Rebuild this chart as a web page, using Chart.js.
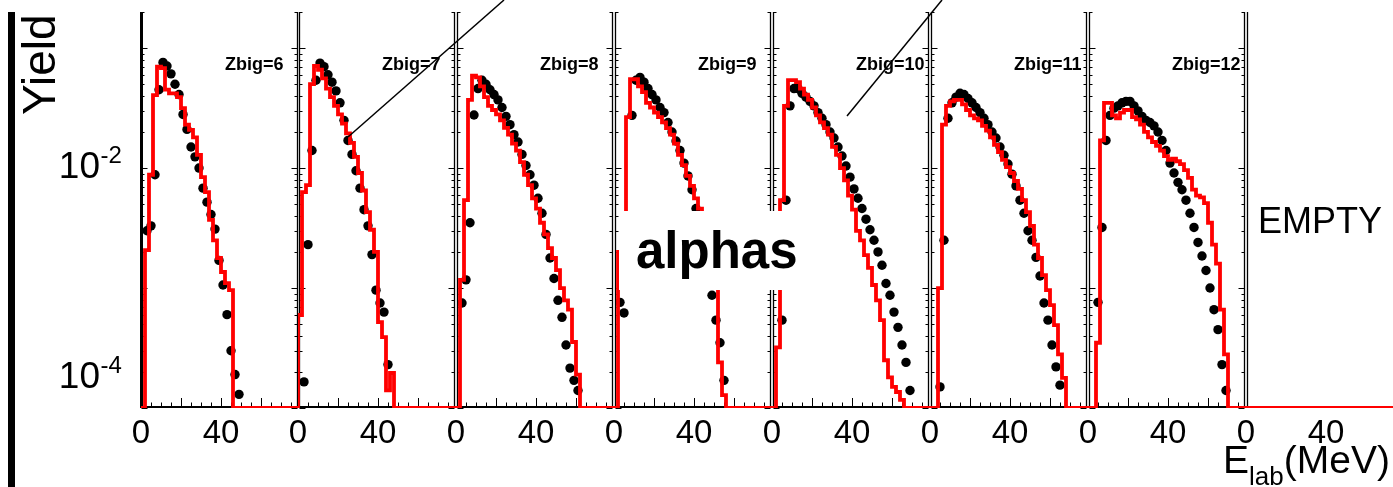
<!DOCTYPE html>
<html>
<head>
<meta charset="utf-8">
<script src="https://cdn.jsdelivr.net/npm/chart.js@4.4.0/dist/chart.umd.min.js"></script>
<style>
html, body { margin: 0; padding: 0; background: #fff; }
#wrap { position: relative; width: 1393px; height: 487px; overflow: hidden; font-family: "Liberation Sans", Arial, sans-serif; }
#wrap canvas { position: absolute; top: 0; }
#alphas { position: absolute; left: 619px; top: 211px; width: 186px; height: 79px; box-sizing: border-box;
  padding-left: 17px; background: #fff; font-weight: bold; font-size: 51px; line-height: 79px; z-index: 5; white-space: nowrap; }
#marks { position: absolute; left: 0; top: 0; z-index: 6; }
#elab { position: absolute; left: 1223px; top: 440px; font-size: 39px; line-height: 39px; white-space: nowrap; z-index: 7; }
#elab span { font-size: 26px; position: relative; top: 12px; }
</style>
</head>
<body>
<div id="wrap">
  <div id="panels"></div>
  <div id="alphas">alphas</div>
  <svg id="marks" width="1393" height="487">
    <line x1="348" y1="137" x2="504" y2="0" stroke="#000" stroke-width="1.5"/>
    <line x1="847" y1="116" x2="942" y2="0" stroke="#000" stroke-width="1.5"/>
  </svg>
  <div id="elab">E<span>lab</span>(MeV)</div>
</div>
<script>
// alphas, yield vs E_lab, one panel per Zbig

const BIN = 2;        // MeV per bin
const FLOOR = 1e-4;   // empty bins sit on the axis minimum
const X_MAX = 79;
const FONT = '"Liberation Sans", Arial, sans-serif';

const zbig = [6, 7, 8, 9, 10, 11, 12];
const xLabels = [0, 40];
const yLabels = [1e-2, 1e-4];

// red histogram: left edge of first filled bin, then bin contents
const simStart = [2, 0, 2, 2, 2, 4, 4];
const simZ6 = [2.07e-3, 8.8e-3, 4.06e-2, 7.0e-2, 6.8e-2, 4.5e-2, 4.2e-2, 4.2e-2, 3.9e-2, 3.16e-2, 2.3e-2,
  2.08e-2, 1.8e-2, 1.29e-2, 8.4e-3, 6.3e-3, 3.7e-3, 2.5e-3, 1.78e-3, 1.36e-3, 1.1e-3, 9.6e-4];
const simZ7 = [5.96e-4, 6.3e-3, 7.2e-3, 5.0e-2, 7.1e-2, 6.6e-2, 5.6e-2, 4.6e-2, 3.9e-2, 3.3e-2, 2.8e-2,
  2.35e-2, 1.95e-2, 1.62e-2, 1.24e-2, 9.1e-3, 6.5e-3, 4.3e-3, 3.06e-3, 2.0e-3, 5.2e-4, 3.9e-4, 1.4e-4, 1.96e-4];
const simZ8 = [1.17e-3, 5.4e-3, 3.7e-2, 5.9e-2, 5.7e-2, 4.8e-2, 3.9e-2, 3.3e-2, 3.05e-2, 2.8e-2, 2.5e-2,
  2.16e-2, 1.9e-2, 1.6e-2, 1.4e-2, 1.12e-2, 8.8e-3, 7.2e-3, 5.6e-3, 4.6e-3, 3.5e-3, 2.8e-3, 2.15e-3,
  1.78e-3, 1.41e-3, 1.0e-3, 7.9e-4, 6.6e-4, 3.55e-4, 1.9e-4];
const simZ9 = [2.0e-3, 2.5e-3, 2.66e-2, 5.5e-2, 5.5e-2, 4.8e-2, 4.3e-2, 3.5e-2, 3.2e-2, 2.9e-2, 2.66e-2,
  2.4e-2, 2.15e-2, 1.9e-2, 1.6e-2, 1.29e-2, 1.06e-2, 8.6e-3, 7.1e-3, 5.6e-3, 4.6e-3, 3.0e-3, 2.0e-3,
  1.47e-3, 1.06e-3, 2.4e-4, 1.28e-4];
const simZ10 = [3.2e-4, 5.4e-3, 3.3e-2, 5.4e-2, 5.4e-2, 5.2e-2, 4.6e-2, 4.1e-2, 3.7e-2, 3.2e-2, 2.75e-2,
  2.4e-2, 2.15e-2, 1.9e-2, 1.5e-2, 1.29e-2, 1.0e-2, 7.9e-3, 5.9e-3, 4.5e-3, 3.0e-3, 2.5e-3, 1.88e-3,
  1.47e-3, 1.06e-3, 7.9e-4, 5.4e-4, 2.5e-4, 1.8e-4, 1.5e-4, 1.36e-4, 1.17e-4];
const simZ11 = [1.0e-3, 2.3e-2, 3.3e-2, 3.6e-2, 3.7e-2, 3.7e-2, 3.4e-2, 3.05e-2, 2.75e-2, 2.6e-2, 2.5e-2,
  2.25e-2, 2.05e-2, 1.8e-2, 1.56e-2, 1.36e-2, 1.17e-2, 1.02e-2, 9.1e-3, 7.8e-3, 6.7e-3, 5.4e-3, 4.3e-3,
  3.3e-3, 2.3e-3, 1.78e-3, 1.28e-3, 9.6e-4, 7.2e-4, 4.9e-4, 2.8e-4, 1.78e-4];
const simZ12 = [3.5e-4, 1.7e-2, 3.5e-2, 3.5e-2, 2.75e-2, 2.6e-2, 2.9e-2, 3.05e-2, 3.05e-2, 2.66e-2, 2.55e-2,
  2.3e-2, 2.0e-2, 1.8e-2, 1.65e-2, 1.53e-2, 1.4e-2, 1.26e-2, 1.17e-2, 1.2e-2, 1.14e-2, 1.08e-2, 9.6e-3,
  8.3e-3, 6.6e-3, 5.9e-3, 5.7e-3, 5.1e-3, 3.5e-3, 2.3e-3, 1.6e-3, 6.6e-4, 2.8e-4];

// black points: left edge of first bin, then values at bin centres
const expStart = [2, 2, 2, 2, 4, 4, 4];
const expZ6 = [3.0e-3, 3.3e-3, 8.8e-3, 4.5e-2, 7.6e-2, 7.1e-2, 6.1e-2, 5.0e-2, 4.1e-2, 2.8e-2, 2.1e-2,
  1.5e-2, 1.24e-2, 1.0e-2, 6.8e-3, 5.2e-3, 4.1e-3, 3.1e-3, 1.7e-3, 1.06e-3, 6.0e-4, 3.0e-4, 1.9e-4, 1.3e-4];
const expZ7 = [1.65e-4, 2.3e-3, 1.4e-2, 5.4e-2, 7.5e-2, 7.0e-2, 6.0e-2, 5.2e-2, 4.4e-2, 3.5e-2, 2.5e-2,
  1.7e-2, 1.3e-2, 9.5e-3, 6.8e-3, 4.5e-3, 3.3e-3, 1.9e-3, 9.6e-4, 7.5e-4, 6.3e-4, 2.3e-4];
const expZ8 = [7.5e-4, 1.17e-3, 3.5e-3, 2.77e-2, 4.6e-2, 5.4e-2, 5.0e-2, 4.5e-2, 4.1e-2, 3.7e-2, 3.2e-2,
  2.7e-2, 2.3e-2, 1.9e-2, 1.65e-2, 1.3e-2, 1.05e-2, 8.8e-3, 7.2e-3, 5.6e-3, 4.2e-3, 2.8e-3, 1.78e-3,
  1.2e-3, 7.9e-4, 5.7e-4, 3.35e-4, 2.15e-4, 1.7e-4, 1.4e-4];
const expZ9 = [7.6e-4, 6.2e-4, 3.3e-3, 2.75e-2, 5.4e-2, 5.7e-2, 5.2e-2, 4.6e-2, 4.1e-2, 3.7e-2, 3.2e-2,
  2.9e-2, 2.4e-2, 2.0e-2, 1.68e-2, 1.4e-2, 1.1e-2, 8.6e-3, 6.6e-3, 4.6e-3, 3.0e-3, 2.2e-3, 1.4e-3,
  8.7e-4, 5.4e-4, 3.5e-4, 1.7e-4];
const expZ10 = [5.4e-4, 5.4e-3, 3.3e-2, 4.6e-2, 4.6e-2, 4.2e-2, 3.9e-2, 3.6e-2, 3.3e-2, 2.9e-2, 2.6e-2,
  2.3e-2, 2.0e-2, 1.78e-2, 1.5e-2, 1.26e-2, 1.04e-2, 8.4e-3, 6.7e-3, 5.6e-3, 4.6e-3, 3.75e-3, 3.06e-3,
  2.5e-3, 2.0e-3, 1.55e-3, 1.09e-3, 8.7e-4, 6.3e-4, 4.7e-4, 3.35e-4, 2.4e-4, 1.4e-4];
const expZ11 = [1.5e-4, 2.5e-3, 2.6e-2, 3.5e-2, 3.9e-2, 4.2e-2, 4.1e-2, 3.8e-2, 3.5e-2, 3.2e-2, 2.9e-2,
  2.6e-2, 2.3e-2, 2.0e-2, 1.78e-2, 1.5e-2, 1.28e-2, 1.08e-2, 8.9e-3, 7.1e-3, 5.4e-3, 4.2e-3, 3.0e-3,
  2.5e-3, 1.8e-3, 1.26e-3, 7.5e-4, 5.4e-4, 3.35e-4, 2.2e-4, 1.55e-4];
const expZ12 = [7.6e-4, 3.2e-3, 1.7e-2, 2.75e-2, 3.16e-2, 3.3e-2, 3.5e-2, 3.6e-2, 3.6e-2, 3.3e-2, 3.0e-2,
  2.7e-2, 2.5e-2, 2.4e-2, 2.25e-2, 2.0e-2, 1.7e-2, 1.4e-2, 1.1e-2, 9.1e-3, 7.6e-3, 6.6e-3, 5.4e-3,
  4.2e-3, 3.2e-3, 2.4e-3, 1.85e-3, 1.4e-3, 1.0e-3, 6.6e-4, 4.5e-4, 2.3e-4, 1.4e-4];

const simSeries = [simZ6, simZ7, simZ8, simZ9, simZ10, simZ11, simZ12];
const expSeries = [expZ6, expZ7, expZ8, expZ9, expZ10, expZ11, expZ12];

// layout of the pads (left edge of each plot area, px)
const panelLeft = [141, 298, 456, 614, 772, 930, 1088, 1246];
const PANEL_W = 158;

function histPoints(start, vals) {
  const pts = [{x: 0, y: FLOOR}];
  vals.forEach((v, k) => pts.push({x: start + k * BIN, y: v}));
  pts.push({x: start + vals.length * BIN, y: FLOOR});
  pts.push({x: X_MAX, y: FLOOR});
  return pts;
}

function dotPoints(start, vals) {
  return vals.map((v, k) => ({x: start + BIN / 2 + k * BIN, y: v}));
}

function seg(ctx, x1, y1, x2, y2) {
  ctx.beginPath();
  ctx.moveTo(x1, y1);
  ctx.lineTo(x2, y2);
  ctx.stroke();
}

const panelDecor = {
  id: 'panelDecor',
  beforeDatasetsDraw(chart, args, o) {
    const {ctx, chartArea: a, scales: {x, y}} = chart;
    ctx.save();
    ctx.strokeStyle = '#000';
    const lx = o.first ? a.left + 0.5 : a.left + 1.5;
    const rx = a.right - 1.5;
    ctx.lineWidth = o.first ? 3 : 1.3;
    seg(ctx, lx, a.top, lx, a.bottom);
    ctx.lineWidth = 1.3;
    seg(ctx, rx, a.top, rx, a.bottom);
    ctx.lineWidth = 2;
    seg(ctx, a.left, a.bottom - 1, a.right, a.bottom - 1);
    if (!o.empty) {
      ctx.lineWidth = 1;
      for (let e = -4; e <= -1; e++) {
        for (let k = 1; k <= 9; k++) {
          const v = k * Math.pow(10, e);
          if (v < y.min || v > y.max) continue;
          const py = Math.round(y.getPixelForValue(v)) + 0.5;
          const len = k === 1 ? 6 : 3;
          seg(ctx, lx, py, lx + len, py);
          seg(ctx, rx, py, rx - len, py);
        }
      }
      for (let v = 5; v < X_MAX; v += 5) {
        const px = Math.round(x.getPixelForValue(v)) + 0.5;
        const len = v % 20 === 0 ? 9 : 4.5;
        seg(ctx, px, a.bottom - 1, px, a.bottom - 1 - len);
      }
    }
    ctx.restore();
  },
  afterDraw(chart, args, o) {
    const {ctx, chartArea: a, scales: {x}} = chart;
    ctx.save();
    ctx.fillStyle = '#000';
    ctx.textBaseline = 'alphabetic';
    ctx.font = '33px ' + FONT;
    ctx.textAlign = 'center';
    xLabels.forEach(v => ctx.fillText(String(v), x.getPixelForValue(v), 443));
    if (o.label) {
      ctx.font = 'bold 18px ' + FONT;
      ctx.textAlign = 'left';
      ctx.fillText(o.label, x.getPixelForValue(42), 70);
    }
    if (o.empty) {
      ctx.font = '36px ' + FONT;
      ctx.textAlign = 'left';
      ctx.fillText('EMPTY', a.left + 12, 233);
    }
    if (o.first) {
      const yl = chart.scales.yl;
      yLabels.forEach(v => {
        const py = yl.getPixelForValue(v);
        ctx.font = '37px ' + FONT;
        ctx.textAlign = 'right';
        ctx.fillText('10', 100, py + 13);
        ctx.font = '24px ' + FONT;
        ctx.textAlign = 'left';
        ctx.fillText(String(Math.round(Math.log10(v))), 100.5, py - 2);
      });
      ctx.fillRect(8, 12, 7, 475);
      ctx.translate(55, 115);
      ctx.rotate(-Math.PI / 2);
      ctx.font = '46px ' + FONT;
      ctx.fillText('Yield', 0, 0);
    }
    ctx.restore();
  }
};

const holder = document.getElementById('panels');

panelLeft.forEach((left, i) => {
  const first = i === 0;
  const empty = i === zbig.length;
  const padL = first ? left : 30;
  const padR = 30;
  const cv = document.createElement('canvas');
  cv.width = padL + PANEL_W + padR;
  cv.height = 487;
  cv.style.left = (left - padL) + 'px';
  holder.appendChild(cv);

  const datasets = [{
    data: empty ? histPoints(0, []) : histPoints(simStart[i], simSeries[i]),
    stepped: true,
    borderColor: '#ff0000',
    borderWidth: 3.8,
    pointRadius: 0,
    fill: false,
    order: 0
  }];
  if (!empty) {
    datasets.push({
      data: dotPoints(expStart[i], expSeries[i]),
      showLine: false,
      pointRadius: 4.7,
      pointHoverRadius: 4.7,
      pointBackgroundColor: '#000',
      pointBorderWidth: 0,
      order: 1
    });
  }

  const scales = {
    x: {type: 'linear', min: 0, max: X_MAX, display: false},
    y: {type: 'logarithmic', min: FLOOR, max: 0.2, display: false}
  };
  if (first) {
    scales.yl = {type: 'logarithmic', position: 'left', min: 4.85e-5, max: 0.2864, display: false};
  }

  new Chart(cv, {
    type: 'line',
    data: {datasets: datasets},
    options: {
      responsive: false,
      animation: false,
      devicePixelRatio: 1,
      events: [],
      layout: {padding: {left: padL, right: padR, top: 12, bottom: 79}},
      scales: scales,
      plugins: {
        legend: {display: false},
        tooltip: {enabled: false},
        panelDecor: {first: first, empty: empty, label: empty ? '' : 'Zbig=' + zbig[i]}
      }
    },
    plugins: [panelDecor]
  });
});
</script>
</body>
</html>
